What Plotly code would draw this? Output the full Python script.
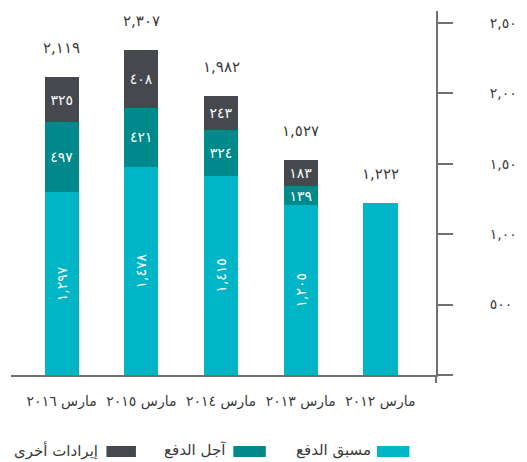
import plotly.graph_objects as go

# ---- data ----
categories = ["مارس ٢٠١٦", "مارس ٢٠١٥", "مارس ٢٠١٤", "مارس ٢٠١٣", "مارس ٢٠١٢"]
series_names = ["مسبق الدفع", "آجل الدفع", "إيرادات أخرى"]
prepaid = [1297, 1478, 1415, 1205, 1222]
postpaid = [497, 421, 324, 139, None]
other = [325, 408, 243, 183, None]
totals = [2119, 2307, 1982, 1527, 1222]
ytick_vals = [0, 500, 1000, 1500, 2000, 2500]
ytick_text = ["", "٥٠٠", "١,٠٠٠", "١,٥٠٠", "٢,٠٠٠", "٢,٥٠٠"]

AR = str.maketrans("0123456789", "٠١٢٣٤٥٦٧٨٩")


def ar(v):
    if v is None:
        return ""
    return f"{v:,}".translate(AR)


colors = ["#00B5C6", "#00898B", "#45494E"]
FONT = "DejaVu Sans"
TXT = "#3a3a3a"
AXC = "#707075"

OFF = 8  # page body margin
W, H = 527 - OFF, 462 - OFF
L, R, T, B = 3, 84, 3, 87
pw, ph = W - L - R, H - T - B


def px(x):
    return (x - OFF - L) / pw


def py(y):
    return ((H - B) - (y - OFF)) / ph


fig = go.Figure()
fig.add_trace(go.Bar(
    x=categories, y=prepaid, name=series_names[0], marker_color=colors[0],
    text=[ar(v) for v in prepaid[:4]] + [""], textposition="inside",
    insidetextanchor="middle", textangle=-90,
    textfont=dict(color="white", size=14, family=FONT), width=0.43,
    marker_line_width=0, showlegend=False))
fig.add_trace(go.Bar(
    x=categories, y=postpaid, name=series_names[1], marker_color=colors[1],
    text=[ar(v) for v in postpaid], textposition="inside",
    insidetextanchor="middle", textangle=0,
    textfont=dict(color="white", size=14, family=FONT), width=0.43,
    marker_line_width=0, showlegend=False))
fig.add_trace(go.Bar(
    x=categories, y=other, name=series_names[2], marker_color=colors[2],
    text=[ar(v) for v in other], textposition="inside",
    insidetextanchor="middle", textangle=0,
    textfont=dict(color="white", size=14, family=FONT), width=0.43,
    marker_line_width=0, showlegend=False))

# totals above bars
for c, t in zip(categories, totals):
    fig.add_annotation(x=c, y=t, text=ar(t), showarrow=False, yshift=29,
                       font=dict(size=15, color=TXT, family=FONT))

# manual RTL legend
sw = [(383, 416), (237, 270), (108, 138)]
tx = [379, 232, 101]
for (x0, x1), t, name, col in zip(sw, tx, series_names, colors):
    fig.add_shape(type="rect", xref="paper", yref="paper",
                  x0=px(x0), x1=px(x1), y0=py(457), y1=py(446),
                  fillcolor=col, line_width=0)
    fig.add_annotation(xref="paper", yref="paper", x=px(t), y=py(450),
                       text=name, showarrow=False, xanchor="right",
                       yanchor="middle",
                       font=dict(size=15, color=TXT, family=FONT))

# extend y axis line below x axis
fig.add_shape(type="line", xref="paper", yref="paper", x0=1, x1=1,
              y0=py(383), y1=0, line=dict(color=AXC, width=2))

fig.update_layout(
    width=W, height=H, margin=dict(l=L, r=R, t=T, b=B),
    barmode="stack", plot_bgcolor="white", paper_bgcolor="white",
    showlegend=False,
    uniformtext=dict(minsize=14, mode="show"),
    font=dict(family=FONT, color=TXT),
)
fig.update_xaxes(range=[-0.636, 4.698], showline=True, linecolor=AXC,
                 linewidth=2, showgrid=False, ticks="", zeroline=False,
                 tickfont=dict(size=14, color=TXT, family=FONT),
                 ticklabelstandoff=12)
fig.update_yaxes(side="right", range=[0, 2585], tickvals=ytick_vals,
                 ticktext=ytick_text, showline=True, linecolor=AXC,
                 linewidth=2, ticks="outside", ticklen=15, tickwidth=2,
                 tickcolor=AXC, showgrid=False, zeroline=False,
                 tickfont=dict(size=14, color=TXT, family=FONT),
                 ticklabelstandoff=34)

fig.write_html("out.html")
